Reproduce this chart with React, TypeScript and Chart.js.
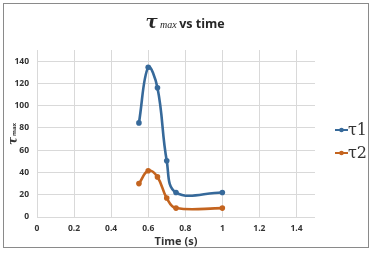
import React, { useEffect, useRef } from "react";
import { Chart, registerables } from "chart.js";

Chart.register(...registerables);

const timesT1 = [0.55, 0.6, 0.65, 0.7, 0.75, 1.0];
const valuesT1 = [84.5, 134.5, 116, 50.5, 22, 22];
const timesT2 = [0.55, 0.6, 0.65, 0.7, 0.75, 1.0];
const valuesT2 = [30, 41.5, 36, 17, 8, 8];
const seriesNames = ["τ1", "τ2"];
const seriesColors = ["#36699a", "#c4641f"];
const xTicks = [0, 0.2, 0.4, 0.6, 0.8, 1, 1.2, 1.4];
const yTicks = [0, 20, 40, 60, 80, 100, 120, 140];

const FONT = "'Open Sans', 'Liberation Sans', sans-serif";

const decorPlugin = {
  id: "decor",
  beforeDraw(chart: any) {
    const ctx = chart.ctx;
    ctx.save();
    ctx.fillStyle = "#ffffff";
    ctx.fillRect(0, 0, chart.width, chart.height);
    ctx.strokeStyle = "#8a8a8a";
    ctx.lineWidth = 1;
    ctx.strokeRect(3.5, 3.5, 365, 244);
    ctx.restore();
  },
  afterDraw(chart: any) {
    const ctx = chart.ctx;
    const area = chart.chartArea;
    ctx.save();
    ctx.fillStyle = "#262626";
    ctx.textBaseline = "alphabetic";
    const p1 = "τ";
    const p2 = " max ";
    const p3 = "vs time";
    const f1 = "italic bold 18px 'DejaVu Serif', serif";
    const f2 = "italic 10px 'Liberation Serif', serif";
    const f3 = "bold 12.5px " + FONT;
    ctx.font = f1; const w1 = ctx.measureText(p1).width;
    ctx.font = f2; const w2 = ctx.measureText(p2).width;
    ctx.font = f3; const w3 = ctx.measureText(p3).width;
    let x = 185 - (w1 + w2 + w3) / 2;
    const base = 28;
    ctx.textAlign = "left";
    ctx.font = f1; ctx.fillText(p1, x, base); x += w1;
    ctx.font = f2; ctx.fillText(p2, x, base); x += w2;
    ctx.font = f3; ctx.fillText(p3, x, base);

    ctx.fillStyle = "#333333";
    ctx.font = "bold 11px " + FONT;
    ctx.textAlign = "center";
    ctx.fillText("Time (s)", (area.left + area.right) / 2, 245);

    ctx.save();
    ctx.translate(17, 134);
    ctx.rotate(-Math.PI / 2);
    ctx.textAlign = "left";
    const g1 = "italic bold 12px 'DejaVu Serif', serif";
    const g2 = "bold 6px " + FONT;
    ctx.font = g1; const v1 = ctx.measureText("τ").width;
    ctx.font = g2; const v2 = ctx.measureText("max").width;
    let yx = -(v1 + v2 + 1) / 2;
    ctx.font = g1; ctx.fillText("τ", yx, 0); yx += v1 + 1;
    ctx.font = g2; ctx.fillText("max", yx, -1);
    ctx.restore();

    const legendY = [130, 153];
    seriesNames.forEach((name, i) => {
      const y = legendY[i];
      ctx.strokeStyle = seriesColors[i];
      ctx.fillStyle = seriesColors[i];
      ctx.lineWidth = 2;
      ctx.beginPath();
      ctx.moveTo(335, y);
      ctx.lineTo(348, y);
      ctx.stroke();
      ctx.beginPath();
      ctx.arc(341.5, y, 2.3, 0, Math.PI * 2);
      ctx.fill();
      ctx.fillStyle = "#333333";
      ctx.font = "16px 'DejaVu Serif', serif";
      ctx.textAlign = "left";
      ctx.textBaseline = "middle";
      ctx.fillText(name, 348, y + 1);
      ctx.textBaseline = "alphabetic";
    });
    ctx.restore();
  },
};

export default function App() {
  const ref = useRef<HTMLCanvasElement | null>(null);
  useEffect(() => {
    if (!ref.current) return;
    const mk = (xs: number[], ys: number[]) => xs.map((t, i) => ({ x: t, y: ys[i] }));
    const chart = new Chart(ref.current, {
      type: "line",
      data: {
        datasets: [
          {
            label: seriesNames[0],
            data: mk(timesT1, valuesT1),
            borderColor: seriesColors[0],
            backgroundColor: seriesColors[0],
            borderWidth: 2.6,
            pointRadius: 2.8,
            pointBorderWidth: 0,
            tension: 0.4,
          },
          {
            label: seriesNames[1],
            data: mk(timesT2, valuesT2),
            borderColor: seriesColors[1],
            backgroundColor: seriesColors[1],
            borderWidth: 2.6,
            pointRadius: 2.8,
            pointBorderWidth: 0,
            tension: 0.4,
          },
        ],
      },
      options: {
        animation: false,
        responsive: false,
        devicePixelRatio: 1,
        layout: { padding: { left: 0, right: 57, top: 50, bottom: 0 } },
        plugins: { legend: { display: false }, title: { display: false }, tooltip: { enabled: false } },
        scales: {
          x: {
            type: "linear",
            min: 0,
            max: 1.5,
            afterBuildTicks: (s: any) => { s.ticks = xTicks.map((v) => ({ value: v })); },
            afterFit: (s: any) => { s.height = 36; },
            ticks: {
              autoSkip: false,
              maxRotation: 0,
              padding: 6,
              color: "#333333",
              font: { family: FONT, size: 8.5, weight: "bold" },
              callback: (v: any) => String(Math.round(v * 10) / 10),
            },
            grid: { color: "#d9d9d9", lineWidth: 1, drawTicks: false },
            border: { display: false },
          },
          y: {
            min: 0,
            max: 150,
            afterBuildTicks: (s: any) => { s.ticks = yTicks.map((v) => ({ value: v })); },
            afterFit: (s: any) => { s.width = 37; },
            ticks: {
              autoSkip: false,
              padding: 8,
              color: "#333333",
              font: { family: FONT, size: 8.5, weight: "bold" },
              callback: (v: any) => String(v),
            },
            grid: { color: "#d9d9d9", lineWidth: 1, drawTicks: false },
            border: { display: false },
          },
        },
      },
      plugins: [decorPlugin],
    } as any);
    return () => chart.destroy();
  }, []);
  return (
    <div style={{ position: "absolute", left: 0, top: 0, width: 372, height: 253 }}>
      <canvas ref={ref} width={372} height={253} style={{ width: 372, height: 253, display: "block" }} />
    </div>
  );
}
